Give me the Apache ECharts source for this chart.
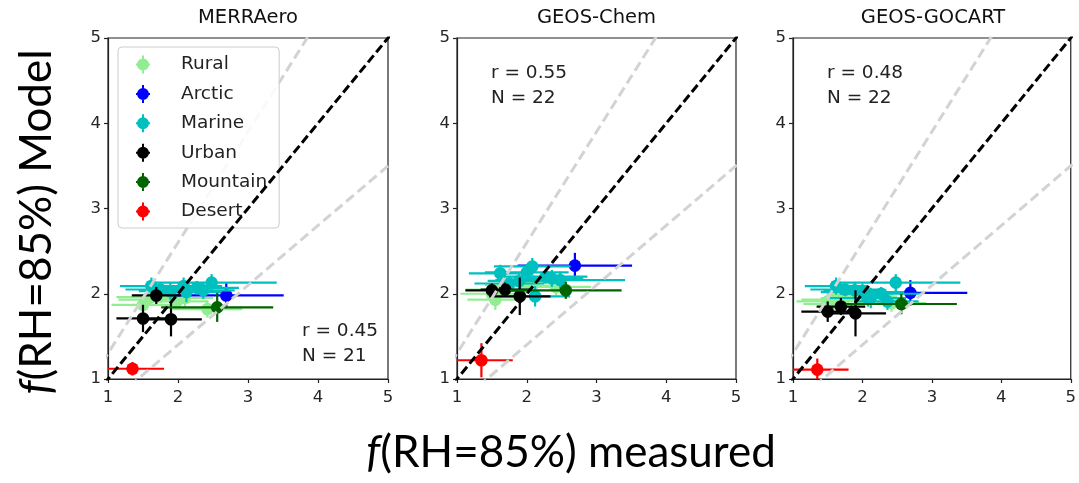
<!DOCTYPE html>
<html>
<head>
<meta charset="utf-8">
<script src="https://cdn.jsdelivr.net/npm/echarts@6/dist/echarts.min.js"></script>
<style>
  html, body { margin: 0; padding: 0; background: #ffffff; }
  #chart { width: 1079px; height: 483px; }
</style>
</head>
<body>
<div id="chart"></div>
<script>
// Model names shown above each panel, with the correlation and sample count
const panelTitles = ['MERRAero', 'GEOS-Chem', 'GEOS-GOCART'];
const panelR = ['r = 0.45', 'r = 0.55', 'r = 0.48'];
const panelN = ['N = 21', 'N = 22', 'N = 22'];

const categories = ['Rural', 'Arctic', 'Marine', 'Urban', 'Mountain', 'Desert'];
const categoryColors = ['#90ee90', '#0000ff', '#00bfbf', '#000000', '#006400', '#ff0000'];

const axisTicks = [1, 2, 3, 4, 5];
// Reference lines y = k * x (1:1 and +/-30%)
const refSlopes = [1.3, 0.7];
const oneToOne = [1];

// Measured f(RH=85%) per site (shared by all panels) with uncertainty
const ruralMeasured = [1.50, 1.55, 1.62, 1.75, 1.98, 2.10, 2.42];
const ruralMeasuredErr = [0.45, 0.40, 0.50, 0.35, 0.45, 0.40, 0.50];
const arcticMeasured = [2.69];
const arcticMeasuredErr = [0.82];
const marineMeasured = [1.62, 1.75, 1.89, 2.00, 2.08, 2.12, 2.27, 2.36, 2.48];
const marineMeasuredErr = [0.45, 0.50, 0.45, 0.60, 0.55, 0.50, 0.60, 0.45, 0.93];
const urbanMeasured = [1.50, 1.69, 1.90];
const urbanMeasuredErr = [0.38, 0.35, 0.44];
const mountainMeasured = [2.56];
const mountainMeasuredErr = [0.80];
const desertMeasured = [1.35];
const desertMeasuredErr = [0.45];

// Modelled f(RH=85%) per site, one row per model (MERRAero, GEOS-Chem, GEOS-GOCART)
const ruralModel = [
  [1.87, 1.93, 1.96, 1.97, 1.91, 1.95, 1.82],
  [2.00, 1.93, 2.05, 2.10, 2.09, 2.12, 2.08],
  [1.91, 1.88, 1.93, 1.95, 1.99, 1.97, 1.89]
];
const ruralModelErr = [0.10, 0.12, 0.10, 0.08, 0.10, 0.10, 0.10];
const arcticModel = [[1.98], [2.33], [2.01]];
const arcticModelErr = [0.15];
const marineModel = [
  [2.09, 2.05, 2.03, null, 2.09, 2.02, 2.07, 2.04, 2.13],
  [2.24, 2.12, 2.15, 2.25, 2.32, 1.97, 2.20, 2.18, 2.16],
  [2.09, 2.05, 2.04, 2.02, 1.95, 1.95, 2.00, 1.91, 2.13]
];
const marineModelErr = [0.10, 0.08, 0.10, 0.10, 0.10, 0.12, 0.08, 0.10, 0.10];
const urbanModel = [[1.71, 1.98, 1.70], [2.04, 2.05, 1.97], [1.79, 1.85, 1.77]];
const urbanModelErr = [[0.16, 0.10, 0.20], [0.08, 0.08, 0.22], [0.12, 0.10, 0.27]];
const mountainModel = [[1.84], [2.04], [1.88]];
const mountainModelErr = [[0.17], [0.10], [0.12]];
const desertModel = [[1.12], [1.22], [1.11]];
const desertModelErr = [[0.08], [0.20], [0.13]];

const measuredByCat = [ruralMeasured, arcticMeasured, marineMeasured, urbanMeasured, mountainMeasured, desertMeasured];
const measuredErrByCat = [ruralMeasuredErr, arcticMeasuredErr, marineMeasuredErr, urbanMeasuredErr, mountainMeasuredErr, desertMeasuredErr];
const modelByCat = [ruralModel, arcticModel, marineModel, urbanModel, mountainModel, desertModel];
const modelErrByCat = [
  [ruralModelErr, ruralModelErr, ruralModelErr],
  [arcticModelErr, arcticModelErr, arcticModelErr],
  [marineModelErr, marineModelErr, marineModelErr],
  urbanModelErr, mountainModelErr, desertModelErr
];

const grids = [
  { left: 108, top: 38, width: 280, height: 341 },
  { left: 457, top: 38, width: 279, height: 341 },
  { left: 793, top: 38, width: 280, height: 341 }
];

const tickFont = { fontFamily: 'DejaVu Sans', fontSize: 16.5, color: '#262626' };

function makeAxis(i, isX) {
  return {
    type: 'value', gridIndex: i, min: axisTicks[0], max: axisTicks[axisTicks.length - 1], interval: 1,
    axisLine: { show: true, onZero: false, lineStyle: { color: '#222', width: 1.2 } },
    axisTick: { show: true, inside: false, length: 4, lineStyle: { color: '#222', width: 1.2 } },
    axisLabel: Object.assign({ margin: isX ? 10 : 7 }, tickFont),
    splitLine: { show: false }
  };
}

// Error-bar marker: horizontal + vertical whiskers with a filled circle
function renderErrorBar(params, api) {
  const cs = params.coordSys;
  const x = api.value(0), y = api.value(1), ex = api.value(2), ey = api.value(3);
  const c = api.coord([x, y]);
  const l = api.coord([x - ex, y]), r = api.coord([x + ex, y]);
  const t = api.coord([x, y + ey]), b = api.coord([x, y - ey]);
  const cx = v => Math.max(cs.x, Math.min(cs.x + cs.width, v));
  const cy = v => Math.max(cs.y, Math.min(cs.y + cs.height, v));
  const color = api.visual('color');
  return {
    type: 'group',
    children: [
      { type: 'line', shape: { x1: cx(l[0]), y1: c[1], x2: cx(r[0]), y2: c[1] }, style: { stroke: color, lineWidth: 2.2 } },
      { type: 'line', shape: { x1: c[0], y1: cy(t[1]), x2: c[0], y2: cy(b[1]) }, style: { stroke: color, lineWidth: 2.2 } },
      { type: 'circle', shape: { cx: c[0], cy: c[1], r: 6.3 }, style: { fill: color } }
    ]
  };
}

const series = [];
for (let p = 0; p < 3; p++) {
  categories.forEach((cat, k) => {
    const xs = measuredByCat[k], xe = measuredErrByCat[k];
    const ys = modelByCat[k][p], ye = modelErrByCat[k][p];
    const data = [];
    xs.forEach((xv, j) => { if (ys[j] != null) data.push([xv, ys[j], xe[j], ye[j]]); });
    series.push({
      type: 'custom', name: cat, xAxisIndex: p, yAxisIndex: p,
      itemStyle: { color: categoryColors[k] },
      renderItem: renderErrorBar, encode: { x: 0, y: 1 }, data: data, z: 2, silent: true
    });
  });
  refSlopes.forEach(s => {
    series.push({
      type: 'line', xAxisIndex: p, yAxisIndex: p, data: [[0, 0], [6, 6 * s]],
      symbol: 'none', clip: true, silent: true, z: 3,
      lineStyle: { color: '#d3d3d3', width: 3, type: [10, 5] }
    });
  });
  oneToOne.forEach(s => {
    series.push({
      type: 'line', xAxisIndex: p, yAxisIndex: p, data: [[0, 0], [6, 6 * s]],
      symbol: 'none', clip: true, silent: true, z: 4,
      lineStyle: { color: '#000000', width: 3, type: [9, 4] }
    });
  });
}

const legendIcon = 'path://M4,10A6,6 0 1,1 16,10A6,6 0 1,1 4,10Z M9,1L11,1L11,19L9,19Z M3,9L17,9L17,11L3,11Z';

const statPos = [
  { x: 302, y1: 331, y2: 356 },
  { x: 491, y1: 73, y2: 98 },
  { x: 827, y1: 73, y2: 98 }
];

const graphics = [];
panelTitles.forEach((t, i) => {
  graphics.push({
    type: 'text', x: grids[i].left + grids[i].width / 2, y: 18,
    style: { text: t, fontFamily: 'DejaVu Sans', fontSize: 19.5, fill: '#111', align: 'center', verticalAlign: 'middle' }
  });
  graphics.push({
    type: 'text', x: statPos[i].x, y: statPos[i].y1,
    style: { text: panelR[i], fontFamily: 'DejaVu Sans', fontSize: 18.5, fill: '#222', align: 'left', verticalAlign: 'middle' }
  });
  graphics.push({
    type: 'text', x: statPos[i].x, y: statPos[i].y2,
    style: { text: panelN[i], fontFamily: 'DejaVu Sans', fontSize: 18.5, fill: '#222', align: 'left', verticalAlign: 'middle' }
  });
});
const labelRich = { i: { fontStyle: 'italic', fontFamily: 'Lato', fontSize: 44, fill: '#000' } };
graphics.push({
  type: 'text', x: 571, y: 453,
  style: { text: '{i|f}(RH=85%) measured', rich: labelRich, fontFamily: 'Lato', fontSize: 44, fill: '#000', align: 'center', verticalAlign: 'middle' }
});
graphics.push({
  type: 'text', x: 37, y: 222, rotation: Math.PI / 2,
  style: { text: '{i|f}(RH=85%) Model', rich: labelRich, fontFamily: 'Lato', fontSize: 44, fill: '#000', align: 'center', verticalAlign: 'middle' }
});

const chart = echarts.init(document.getElementById('chart'), null, { renderer: 'canvas' });
chart.setOption({
  animation: false,
  backgroundColor: '#ffffff',
  grid: grids.map(g => Object.assign({ show: true, borderColor: '#222', borderWidth: 1.2, backgroundColor: 'transparent' }, g)),
  xAxis: grids.map((g, i) => makeAxis(i, true)),
  yAxis: grids.map((g, i) => makeAxis(i, false)),
  legend: {
    data: categories, orient: 'vertical', left: 118, top: 47,
    icon: legendIcon, itemWidth: 18, itemHeight: 18, itemGap: 10.4,
    padding: [8, 12, 7, 18],
    borderColor: '#cccccc', borderWidth: 1, borderRadius: 4,
    backgroundColor: 'rgba(255,255,255,0.85)',
    selectedMode: false,
    textStyle: { fontFamily: 'DejaVu Sans', fontSize: 18.5, color: '#222', padding: [0, 0, 0, 24] }
  },
  graphic: graphics,
  series: series
});
</script>
</body>
</html>
